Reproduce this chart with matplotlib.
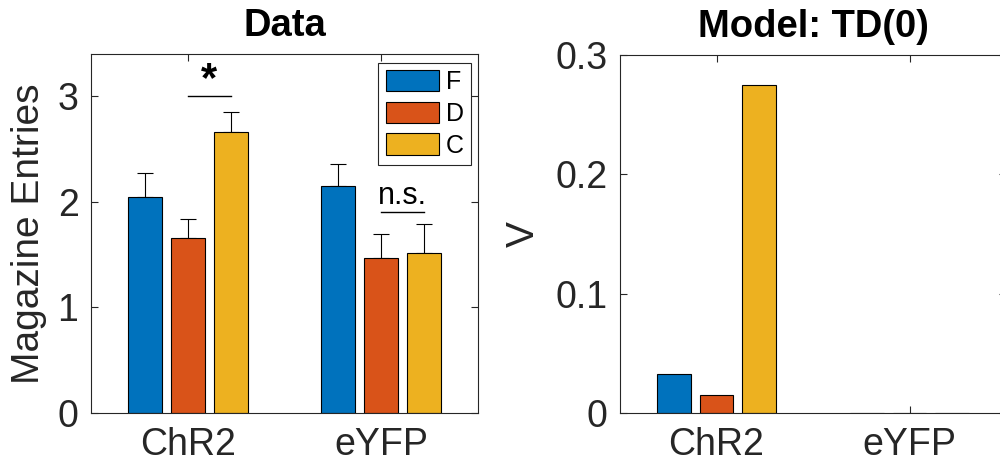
import numpy as np
import matplotlib
matplotlib.use('Agg')
import matplotlib.pyplot as plt

plt.rcParams['font.family'] = ['Liberation Sans', 'DejaVu Sans']

# data
groups = ['ChR2', 'eYFP']
conditions = ['F', 'D', 'C']
colors = ['#0072BD', '#D95319', '#EDB120']

data_mean = np.array([[2.05, 1.66, 2.66],   # ChR2: F, D, C
                      [2.15, 1.47, 1.52]])  # eYFP
data_err = np.array([[0.22, 0.18, 0.19],
                     [0.21, 0.23, 0.27]])

model_v = np.array([[0.0325, 0.0151, 0.2745],
                    [0.0, 0.0, 0.0]])

# significance marks: (group index, from condition, to condition, y, label)
sig_marks = [(0, 1, 2, 3.0, '*'), (1, 1, 2, 1.9, 'n.s.')]

axis_color = '#262626'
bar_w = 0.176
offsets = np.array([-0.222, 0.0, 0.222])
x = np.arange(1, len(groups) + 1)


def style_axes(ax):
    for s in ax.spines.values():
        s.set_color(axis_color)
        s.set_linewidth(0.8)
    ax.tick_params(direction='in', length=5, width=0.8, color=axis_color,
                   labelcolor=axis_color, labelsize=27, top=True, right=True,
                   labeltop=False, labelright=False)
    ax.tick_params(axis='y', pad=9)
    ax.tick_params(axis='x', pad=10)
    ax.set_xlim(0.5, 2.5)
    ax.set_xticks(x)
    ax.set_xticklabels(groups)


fig = plt.figure(figsize=(10, 4.71), dpi=100)
ax1 = fig.add_axes([0.091, 0.1231, 0.387, 0.7622])
ax2 = fig.add_axes([0.620, 0.1231, 0.386, 0.7601])

# left: data
for k, cond in enumerate(conditions):
    xs = x + offsets[k]
    ax1.bar(xs, data_mean[:, k], width=bar_w, color=colors[k],
            edgecolor='black', linewidth=0.8, label=cond, zorder=2)
    ax1.errorbar(xs, data_mean[:, k], yerr=[np.zeros(len(groups)), data_err[:, k]],
                 fmt='none', ecolor='black', elinewidth=0.8, capsize=6,
                 capthick=0.8, zorder=1)

for g, c0, c1, y, lab in sig_marks:
    x0 = x[g] + offsets[c0]
    x1 = x[g] + offsets[c1]
    ax1.plot([x0, x1], [y, y], color='black', linewidth=1.0)
    if lab == '*':
        ax1.text((x0 + x1) / 2, y + 0.15, lab, ha='center', va='center',
                 fontsize=30, fontweight='bold')
    else:
        ax1.text((x0 + x1) / 2, y + 0.075, lab, ha='center', va='baseline',
                 fontsize=22)

ax1.set_ylim(0, 3.4)
ax1.set_yticks([0, 1, 2, 3])
style_axes(ax1)
ax1.set_ylabel('Magazine Entries', fontsize=28, color=axis_color, labelpad=8)
ax1.set_title('Data', fontsize=27.5, fontweight='bold', pad=13)

leg = ax1.legend(loc='upper right', bbox_to_anchor=(0.982, 0.976), fontsize=18,
                 handlelength=2.15, handleheight=0.92, labelspacing=0.3,
                 handletextpad=0.25, borderpad=0.3, borderaxespad=0,
                 fancybox=False, framealpha=1)
leg.get_frame().set_edgecolor(axis_color)
leg.get_frame().set_linewidth(0.8)

# right: model
for k, cond in enumerate(conditions):
    xs = x + offsets[k]
    ax2.bar(xs, model_v[:, k], width=bar_w, color=colors[k],
            edgecolor='black', linewidth=0.8, zorder=2)

ax2.set_ylim(0, 0.3)
ax2.set_yticks([0, 0.1, 0.2, 0.3])
ax2.set_yticklabels(['0', '0.1', '0.2', '0.3'])
style_axes(ax2)
ax2.set_ylabel('V', fontsize=28, color=axis_color, labelpad=10)
ax2.set_title('Model: TD(0)', fontsize=27.5, fontweight='bold', pad=13)

fig.savefig('out.png', dpi=100)
